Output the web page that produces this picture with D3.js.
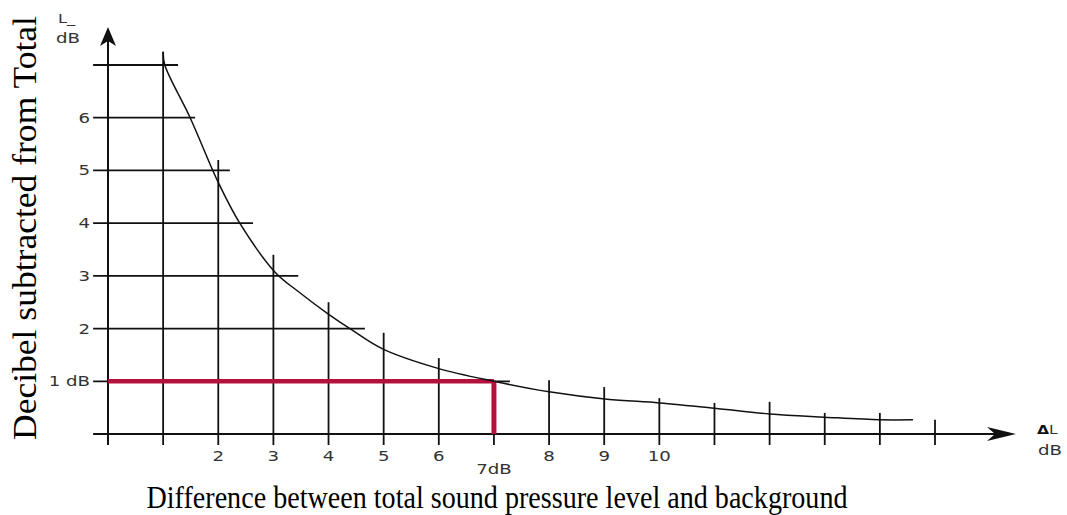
<!DOCTYPE html>
<html>
<head>
<meta charset="utf-8">
<script src="https://cdn.jsdelivr.net/npm/d3@7"></script>
<style>
  html, body { margin: 0; padding: 0; background: #fff; }
  svg { display: block; }
</style>
</head>
<body>
<svg id="chart" width="1067" height="515"></svg>
<script>
// ---- data ----
const xTicks = [1, 2, 3, 4, 5, 6, 7, 8, 9, 10, 11, 12, 13, 14, 15];
const xTickLabels = ["", "2", "3", "4", "5", "6", "7dB", "8", "9", "10", "", "", "", "", ""];
// upper end (in dB) of each vertical grid line
const gridTop = [7.25, 5.2, 3.4, 2.5, 1.92, 1.44, 0, 1.02, 0.89, 0.68, 0.59, 0.61, 0.40, 0.40, 0.27];
const yLevels = [1, 2, 3, 4, 5, 6, 7];
const yTickLabels = ["1 dB", "2", "3", "4", "5", "6", ""];
// right end (in ΔL) of each horizontal grid line
const gridRight = [7.29, 4.66, 3.45, 2.63, 2.21, 1.58, 1.27];
// correction curve: [ΔL, dB subtracted]
const curveX = [1.0, 1.03, 1.49, 1.9, 2.01, 2.39, 3.03, 3.48, 3.99, 4.43, 4.99, 5.97, 7.0, 8.0, 9.05, 10.0, 11.0, 12.0, 13.0, 14.0, 14.6];
const curveY = [7.25, 7.0, 6.0, 5.0, 4.75, 4.0, 3.07, 2.68, 2.28, 1.97, 1.61, 1.25, 1.0, 0.8, 0.66, 0.59, 0.49, 0.38, 0.32, 0.27, 0.27];
// highlighted example
const markX = 7, markY = 1;

// ---- drawing ----
const svg = d3.select("#chart");
const x = d3.scaleLinear().domain([0, 15]).range([108, 935]);
const y = d3.scaleLinear().domain([0, 7]).range([434, 65]);
const ink = "#111";
const labFont = "'DejaVu Sans', Verdana, sans-serif";
const labColor = "#333";
const red = "#b3123f";
const leftX = x(-0.27);
const tickBottom = 445;

// horizontal grid lines
svg.append("g").selectAll("line").data(yLevels).join("line")
  .attr("x1", leftX).attr("x2", (d, i) => x(gridRight[i]))
  .attr("y1", d => y(d)).attr("y2", d => y(d))
  .attr("stroke", ink).attr("stroke-width", 1.8);

// vertical grid lines
svg.append("g").selectAll("line").data(xTicks).join("line")
  .attr("x1", d => x(d)).attr("x2", d => x(d))
  .attr("y1", (d, i) => gridTop[i] > 0 ? y(gridTop[i]) : y(0))
  .attr("y2", tickBottom)
  .attr("stroke", ink).attr("stroke-width", 1.8);

// axes
svg.append("line").attr("x1", x(0)).attr("x2", x(0)).attr("y1", 40).attr("y2", tickBottom)
  .attr("stroke", ink).attr("stroke-width", 2);
svg.append("line").attr("x1", leftX).attr("x2", 998).attr("y1", y(0)).attr("y2", y(0))
  .attr("stroke", ink).attr("stroke-width", 2);

// arrowheads
const ax = x(0);
svg.append("path")
  .attr("d", `M${ax},27 L${ax + 8},46 L${ax},41 L${ax - 8},46 Z`)
  .attr("fill", ink);
const ay = y(0);
svg.append("path")
  .attr("d", `M1016,${ay} L987,${ay - 7} L995,${ay} L987,${ay + 7} Z`)
  .attr("fill", ink);

// red highlight
svg.append("line").attr("x1", x(0)).attr("x2", x(markX)).attr("y1", y(markY)).attr("y2", y(markY))
  .attr("stroke", red).attr("stroke-width", 4.5);
svg.append("line").attr("x1", x(markX)).attr("x2", x(markX)).attr("y1", y(markY)).attr("y2", y(0))
  .attr("stroke", red).attr("stroke-width", 5);

// curve
const pts = curveX.map((v, i) => [v, curveY[i]]);
svg.append("path")
  .attr("d", d3.line().x(d => x(d[0])).y(d => y(d[1])).curve(d3.curveCatmullRom.alpha(0.5))(pts))
  .attr("fill", "none").attr("stroke", ink).attr("stroke-width", 1.5);

// x tick labels
svg.append("g").selectAll("text").data(xTicks).join("text")
  .attr("transform", (d, i) => `translate(${x(d)},${xTickLabels[i] === "7dB" ? 474 : 461}) scale(1.3,1)`)
  .attr("text-anchor", "middle")
  .attr("font-family", labFont).attr("font-size", 14).attr("fill", labColor)
  .text((d, i) => xTickLabels[i]);

// y tick labels
svg.append("g").selectAll("text").data(yLevels).join("text")
  .attr("transform", d => `translate(90,${y(d) + 5}) scale(1.3,1)`)
  .attr("text-anchor", "end")
  .attr("font-family", labFont).attr("font-size", 14).attr("fill", labColor)
  .text((d, i) => yTickLabels[i]);

// small axis unit labels
svg.append("text").attr("transform", "translate(58,23) scale(1.25,1)")
  .attr("font-family", labFont).attr("font-size", 13).attr("fill", labColor).text("L_");
svg.append("text").attr("transform", "translate(56,43) scale(1.3,1)")
  .attr("font-family", labFont).attr("font-size", 14).attr("fill", labColor).text("dB");
const dl = svg.append("text").attr("transform", "translate(1037,434) scale(1.2,1)")
  .attr("font-family", labFont).attr("font-size", 13).attr("fill", labColor);
dl.append("tspan").attr("font-weight", "bold").attr("fill", ink).text("Δ");
dl.append("tspan").text("L");
svg.append("text").attr("transform", "translate(1038,455) scale(1.3,1)")
  .attr("font-family", labFont).attr("font-size", 14).attr("fill", labColor).text("dB");

// axis titles
svg.append("text")
  .attr("transform", "translate(36,228) rotate(-90)")
  .attr("text-anchor", "middle")
  .attr("font-family", "'Liberation Serif', 'Times New Roman', serif")
  .attr("font-size", 34).attr("fill", "#000")
  .attr("textLength", 424).attr("lengthAdjust", "spacingAndGlyphs")
  .text("Decibel subtracted from Total");
svg.append("text")
  .attr("x", 497).attr("y", 508)
  .attr("text-anchor", "middle")
  .attr("font-family", "'Liberation Serif', 'Times New Roman', serif")
  .attr("font-size", 31).attr("fill", "#000")
  .attr("textLength", 701).attr("lengthAdjust", "spacingAndGlyphs")
  .text("Difference between total sound pressure level and background");
</script>
</body>
</html>
